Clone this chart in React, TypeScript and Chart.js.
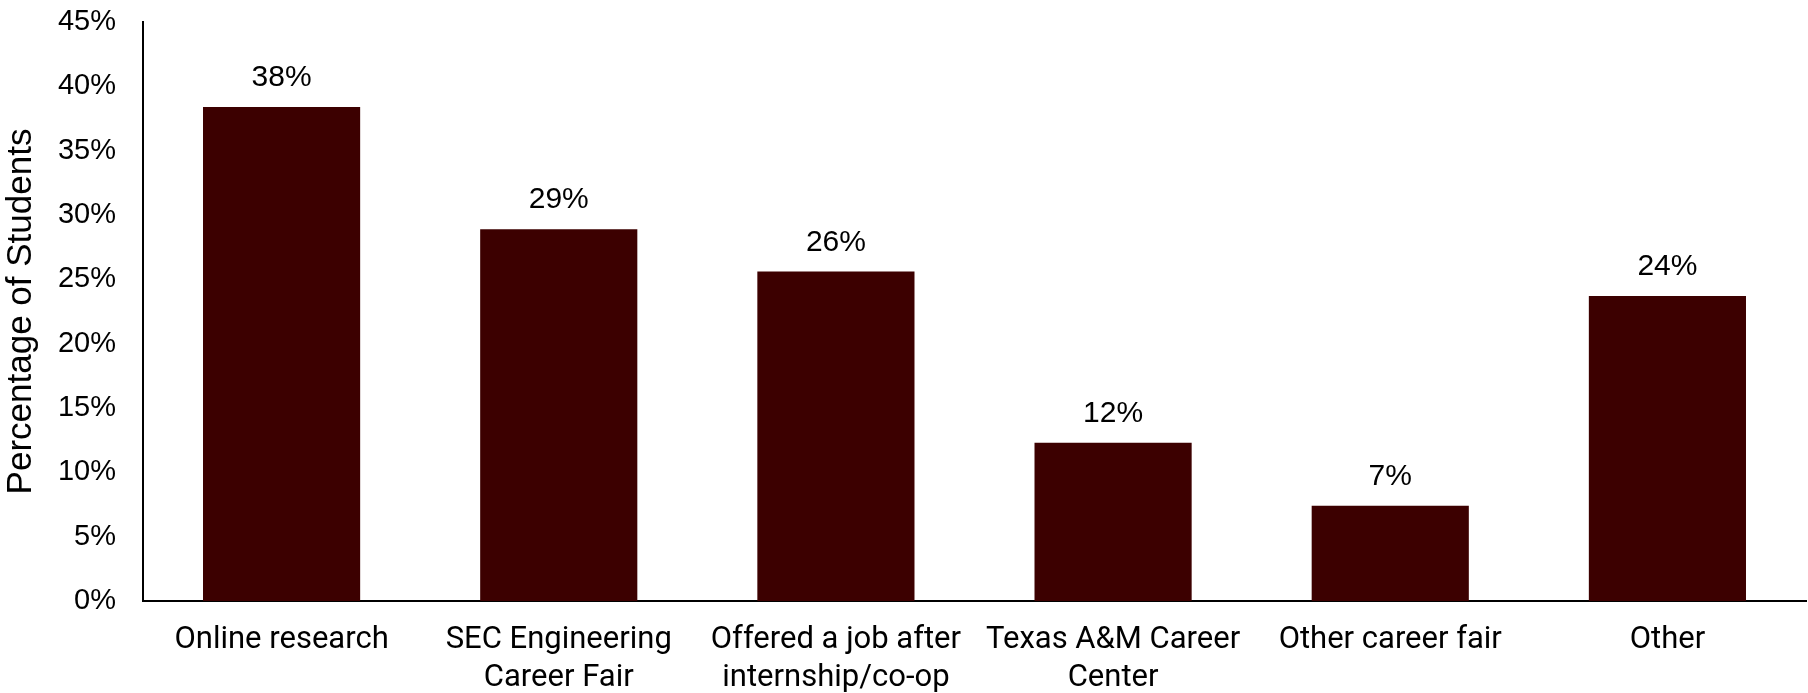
import React, { useEffect, useRef } from "react";
import { Chart, registerables } from "chart.js";

Chart.register(...registerables);

const categories: (string | string[])[] = [
  "Online research",
  ["SEC Engineering", "Career Fair"],
  ["Offered a job after", "internship/co-op"],
  ["Texas A&M Career", "Center"],
  "Other career fair",
  "Other",
];
const values: number[] = [38.4, 28.9, 25.6, 12.3, 7.4, 23.7];
const yTicks: number[] = [0, 5, 10, 15, 20, 25, 30, 35, 40, 45];
const yTitle = "Percentage of Students";
const barColor = "#3c0000";

const dataLabelPlugin = {
  id: "dataLabels",
  afterDatasetsDraw(chart: any) {
    const ctx = chart.ctx;
    const meta = chart.getDatasetMeta(0);
    ctx.save();
    ctx.font = "30px 'Liberation Sans', Arial, sans-serif";
    ctx.fillStyle = "#000";
    ctx.textAlign = "center";
    ctx.textBaseline = "alphabetic";
    meta.data.forEach((bar: any, i: number) => {
      ctx.fillText(Math.round(values[i]) + "%", bar.x, bar.y - 21);
    });
    ctx.restore();
  },
};

export default function App() {
  const ref = useRef<HTMLCanvasElement | null>(null);
  useEffect(() => {
    document.body.style.margin = "0";
    if (!ref.current) return;
    const chart = new Chart(ref.current, {
      type: "bar",
      data: {
        labels: categories,
        datasets: [
          {
            data: values,
            backgroundColor: barColor,
            borderWidth: 0,
            categoryPercentage: 1,
            barPercentage: 0.567,
          },
        ],
      },
      options: {
        animation: false,
        responsive: false,
        maintainAspectRatio: false,
        layout: { padding: { top: 22, right: 2, left: 0, bottom: 0 } },
        plugins: { legend: { display: false }, tooltip: { enabled: false } },
        scales: {
          x: {
            grid: { display: false, drawTicks: false },
            border: { display: true, color: "#000", width: 2 },
            ticks: {
              color: "#000",
              font: { family: "Roboto, 'Liberation Sans', sans-serif", size: 31 },
              padding: 21,
              maxRotation: 0,
              autoSkip: false,
            },
            afterFit(scale: any) {
              scale.height = 92;
            },
          },
          y: {
            min: 0,
            max: 45,
            afterBuildTicks(scale: any) {
              scale.ticks = yTicks.map((v) => ({ value: v }));
            },
            grid: { display: false, drawTicks: false },
            border: { display: true, color: "#000", width: 2 },
            ticks: {
              color: "#000",
              font: { family: "'Liberation Sans', Arial, sans-serif", size: 29 },
              padding: 27,
              callback: (v: any) => v + "%",
            },
            title: {
              display: true,
              text: yTitle,
              color: "#000",
              font: { family: "'Liberation Sans', Arial, sans-serif", size: 35 },
              padding: { top: 0, bottom: 0 },
            },
            afterFit(scale: any) {
              scale.width = 143;
              scale.paddingTop = 0;
              scale.paddingBottom = 0;
            },
          },
        },
      },
      plugins: [dataLabelPlugin],
    });
    return () => chart.destroy();
  }, []);
  return (
    <div style={{ width: 1808, height: 693 }}>
      <canvas ref={ref} width={1808} height={693} style={{ width: 1808, height: 693 }} />
    </div>
  );
}
